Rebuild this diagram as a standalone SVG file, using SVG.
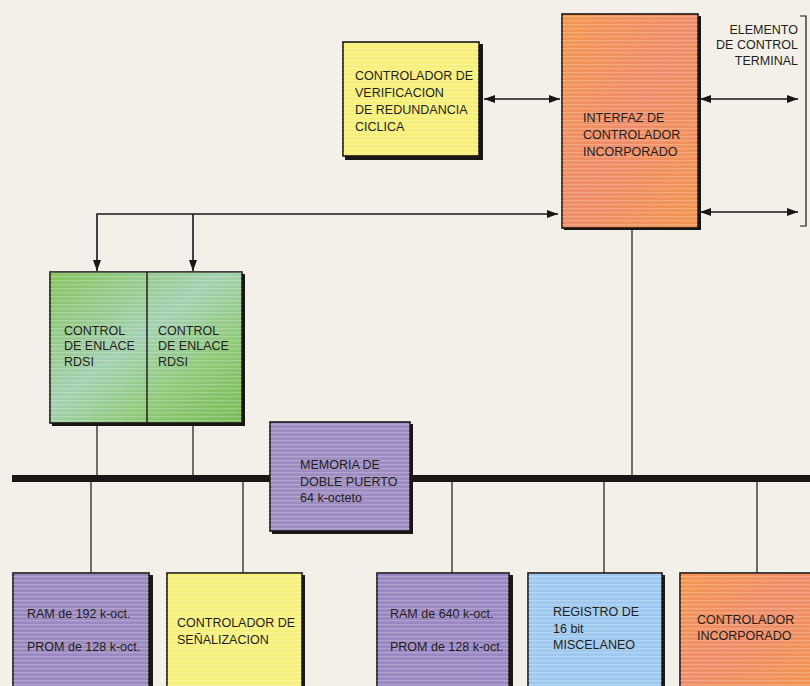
<svg xmlns="http://www.w3.org/2000/svg" width="810" height="686" viewBox="0 0 810 686">
  <defs>
    <style>
      .box { stroke: #1a1614; stroke-width: 1.6; }
      .shadow { fill: #1a1614; }
      .lbl { font-family: "Liberation Sans", Arial, sans-serif; font-size: 12.5px; fill: #241e1b; }
      .wire { stroke: #1a1614; stroke-width: 1.2; fill: none; }
      .arrow { stroke: #1a1614; stroke-width: 1.6; fill: none; }
    </style>
    <marker id="ah" viewBox="0 0 11 8" refX="11" refY="4" markerWidth="11" markerHeight="8" markerUnits="userSpaceOnUse" orient="auto-start-reverse">
      <path d="M0,0 L11,4 L0,8 Z" fill="#1a1614"/>
    </marker>
    <pattern id="stripes" width="4" height="4" patternUnits="userSpaceOnUse">
      <rect width="4" height="1.3" fill="#ffffff" opacity="0.22"/>
    </pattern>
    <linearGradient id="gGreen" x1="0" y1="0" x2="1" y2="1">
      <stop offset="0" stop-color="#86c35e"/>
      <stop offset="0.45" stop-color="#a3d0b0"/>
      <stop offset="0.7" stop-color="#8ec978"/>
      <stop offset="1" stop-color="#78bb55"/>
    </linearGradient>
    <linearGradient id="gOrange" x1="0" y1="0" x2="1" y2="1">
      <stop offset="0" stop-color="#f3964f"/>
      <stop offset="0.5" stop-color="#ee8c68"/>
      <stop offset="1" stop-color="#f2944f"/>
    </linearGradient>
  </defs>

  <!-- paper -->
  <rect width="810" height="686" fill="#f2f0e9"/>

  <!-- connectors -->
  <g id="connectors">
    <!-- main bus -->
    <rect x="12" y="475" width="798" height="7" fill="#1a1614"/>
    <!-- CRC controller <-> interface -->
    <line class="arrow" x1="484" y1="99" x2="560" y2="99" marker-start="url(#ah)" marker-end="url(#ah)"/>
    <!-- interface <-> terminal control element -->
    <line class="arrow" x1="700" y1="99" x2="798" y2="99" marker-start="url(#ah)" marker-end="url(#ah)"/>
    <line class="arrow" x1="700" y1="212" x2="798" y2="212" marker-start="url(#ah)" marker-end="url(#ah)"/>
    <!-- bracket of the terminal control element -->
    <polyline class="wire" points="800,16 806,16 806,226 800,226" stroke-width="1.4"/>
    <!-- link controllers -> interface -->
    <polyline class="arrow" points="97,271 97,214 558,214" marker-start="url(#ah)" marker-end="url(#ah)"/>
    <line class="arrow" x1="193" y1="214" x2="193" y2="271" marker-end="url(#ah)"/>
    <!-- drops onto the bus from above -->
    <line class="wire" x1="97" y1="423" x2="97" y2="476"/>
    <line class="wire" x1="193" y1="423" x2="193" y2="476"/>
    <line class="wire" x1="632" y1="228" x2="632" y2="476"/>
    <!-- drops from the bus below -->
    <line class="wire" x1="91" y1="481" x2="91" y2="574"/>
    <line class="wire" x1="243" y1="481" x2="243" y2="574"/>
    <line class="wire" x1="452" y1="481" x2="452" y2="574"/>
    <line class="wire" x1="604" y1="481" x2="604" y2="574"/>
    <line class="wire" x1="757" y1="481" x2="757" y2="574"/>
  </g>

  <!-- CRC controller -->
  <g id="crc">
    <rect class="shadow" x="345" y="44" width="138" height="116"/>
    <rect class="box" x="343" y="42" width="136" height="114" fill="#f6ef78"/>
    <rect x="343" y="42" width="136" height="114" fill="url(#stripes)"/>
    <text class="lbl" x="355" y="80">CONTROLADOR DE</text>
    <text class="lbl" x="355" y="97">VERIFICACION</text>
    <text class="lbl" x="355" y="114">DE REDUNDANCIA</text>
    <text class="lbl" x="355" y="131">CICLICA</text>
  </g>

  <!-- embedded controller interface -->
  <g id="interfaz">
    <rect class="shadow" x="564" y="16" width="137" height="214"/>
    <rect class="box" x="562" y="14" width="136" height="214" fill="url(#gOrange)"/>
    <rect x="562" y="14" width="136" height="214" fill="url(#stripes)"/>
    <text class="lbl" x="583" y="122">INTERFAZ DE</text>
    <text class="lbl" x="583" y="139">CONTROLADOR</text>
    <text class="lbl" x="583" y="156">INCORPORADO</text>
  </g>

  <!-- terminal control element label -->
  <g id="elemento">
    <text class="lbl" x="798" y="34" text-anchor="end" font-size="11.5">ELEMENTO</text>
    <text class="lbl" x="798" y="49" text-anchor="end" font-size="11.5">DE CONTROL</text>
    <text class="lbl" x="798" y="65" text-anchor="end" font-size="11.5">TERMINAL</text>
  </g>

  <!-- ISDN link controllers -->
  <g id="rdsi">
    <rect class="shadow" x="52" y="274" width="193" height="152"/>
    <rect class="box" x="50" y="272" width="192" height="151" fill="url(#gGreen)"/>
    <rect x="50" y="272" width="192" height="151" fill="url(#stripes)"/>
    <line x1="147" y1="272" x2="147" y2="423" stroke="#1a1614" stroke-width="1.4"/>
    <text class="lbl" x="64" y="335">CONTROL</text>
    <text class="lbl" x="64" y="350">DE ENLACE</text>
    <text class="lbl" x="64" y="366">RDSI</text>
    <text class="lbl" x="158" y="335">CONTROL</text>
    <text class="lbl" x="158" y="350">DE ENLACE</text>
    <text class="lbl" x="158" y="366">RDSI</text>
  </g>

  <!-- dual port memory -->
  <g id="memoria">
    <rect class="shadow" x="272" y="424" width="141" height="110"/>
    <rect class="box" x="270" y="422" width="140" height="109" fill="#9d8cc2"/>
    <rect x="270" y="422" width="140" height="109" fill="url(#stripes)"/>
    <text class="lbl" x="300" y="469">MEMORIA DE</text>
    <text class="lbl" x="300" y="486">DOBLE PUERTO</text>
    <text class="lbl" x="300" y="502">64 k-octeto</text>
  </g>

  <!-- RAM 192 / PROM 128 -->
  <g id="ram192">
    <rect class="shadow" x="15" y="575" width="138" height="115"/>
    <rect class="box" x="13" y="573" width="136" height="115" fill="#9a89c0"/>
    <rect x="13" y="573" width="136" height="115" fill="url(#stripes)"/>
    <text class="lbl" x="27" y="618">RAM de 192 k-oct.</text>
    <text class="lbl" x="27" y="651">PROM de 128 k-oct.</text>
  </g>

  <!-- signalling controller -->
  <g id="senalizacion">
    <rect class="shadow" x="169" y="575" width="136" height="115"/>
    <rect class="box" x="167" y="573" width="135" height="115" fill="#f6f07c"/>
    <rect x="167" y="573" width="135" height="115" fill="url(#stripes)"/>
    <text class="lbl" x="177" y="627">CONTROLADOR DE</text>
    <text class="lbl" x="177" y="644">SEÑALIZACION</text>
  </g>

  <!-- RAM 640 / PROM 128 -->
  <g id="ram640">
    <rect class="shadow" x="379" y="575" width="134" height="115"/>
    <rect class="box" x="377" y="573" width="132" height="115" fill="#9a86c0"/>
    <rect x="377" y="573" width="132" height="115" fill="url(#stripes)"/>
    <text class="lbl" x="390" y="618">RAM de 640 k-oct.</text>
    <text class="lbl" x="390" y="651">PROM de 128 k-oct.</text>
  </g>

  <!-- misc register -->
  <g id="registro">
    <rect class="shadow" x="530" y="575" width="135" height="115"/>
    <rect class="box" x="528" y="573" width="134" height="115" fill="#9ec8ee"/>
    <rect x="528" y="573" width="134" height="115" fill="url(#stripes)"/>
    <text class="lbl" x="553" y="616">REGISTRO DE</text>
    <text class="lbl" x="553" y="633">16 bit</text>
    <text class="lbl" x="553" y="649">MISCELANEO</text>
  </g>

  <!-- embedded controller -->
  <g id="controlador">
    <rect class="shadow" x="682" y="575" width="130" height="115"/>
    <rect class="box" x="680" y="573" width="132" height="115" fill="url(#gOrange)"/>
    <rect x="680" y="573" width="132" height="115" fill="url(#stripes)"/>
    <text class="lbl" x="697" y="624">CONTROLADOR</text>
    <text class="lbl" x="697" y="640">INCORPORADO</text>
  </g>
</svg>
